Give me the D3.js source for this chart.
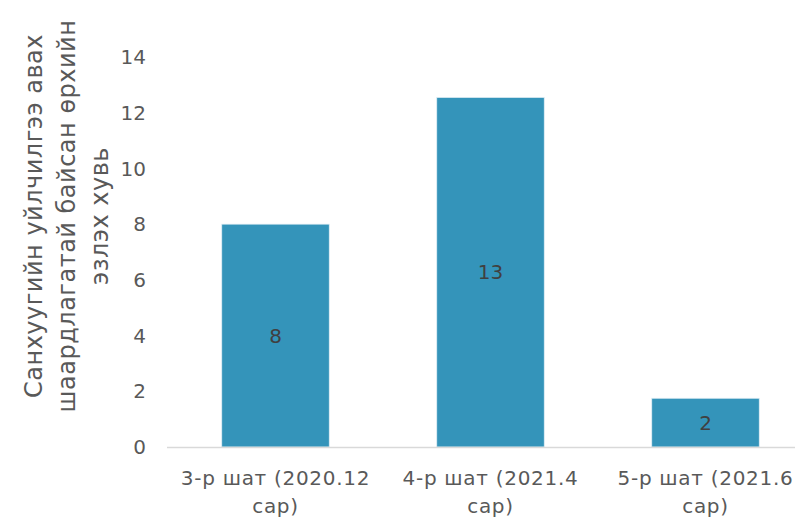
<!DOCTYPE html>
<html lang="mn">
<head>
<meta charset="utf-8">
<title>Санхүүгийн үйлчилгээ</title>
<style>
  body { margin: 0; background: #fff; }
  svg { display: block; }
  .tick-label { font-family: "DejaVu Sans", sans-serif; font-size: 20px; fill: #595959; }
  .cat-label { font-family: "DejaVu Sans", sans-serif; font-size: 20px; fill: #595959; text-anchor: middle; letter-spacing: 0.7px; }
  .bar-label { font-family: "DejaVu Sans", sans-serif; font-size: 20px; fill: #404040; text-anchor: middle; }
  .axis-title { font-family: "DejaVu Sans", sans-serif; font-size: 24px; fill: #595959; text-anchor: middle; letter-spacing: 0.5px; }
</style>
</head>
<body>
<div id="chart"></div>
<script src="https://cdn.jsdelivr.net/npm/d3@7"></script>
<script>
var categories = ["3-р шат (2020.12 сар)", "4-р шат (2021.4 сар)", "5-р шат (2021.6 сар)"];
var values = [8.0, 12.55, 1.75];
var yTicks = [0, 2, 4, 6, 8, 10, 12, 14];
var titleLines = ["Санхуугийн уйлчилгээ авах", "шаардлагатай байсан өрхийн", "эзлэх хувь"];

var width = 795, height = 518;
var plot = {left: 168, right: 813, top: 57, bottom: 447};

var svg = d3.select("#chart").append("svg")
    .attr("width", width)
    .attr("height", height);

var x = d3.scaleBand()
    .domain(categories)
    .range([plot.left, plot.right])
    .paddingInner(0.5)
    .paddingOuter(0.25);

var y = d3.scaleLinear()
    .domain([0, 14])
    .range([plot.bottom, plot.top]);

// y tick labels (no axis line)
svg.append("g").selectAll("text")
    .data(yTicks)
    .enter()
    .append("text")
    .attr("class", "tick-label")
    .attr("x", 146)
    .attr("y", function(d) { return y(d); })
    .attr("dy", "0.36em")
    .attr("text-anchor", "end")
    .text(function(d) { return d; });

// bars
svg.append("g").selectAll("rect")
    .data(values)
    .enter()
    .append("rect")
    .attr("x", function(d, i) { return x(categories[i]); })
    .attr("y", function(d) { return y(d); })
    .attr("width", x.bandwidth())
    .attr("height", function(d) { return y(0) - y(d); })
    .style("fill", "#3494BA")
    .style("stroke", "#e3eff5")
    .style("stroke-width", 0.75);

// value labels in middle of bars
svg.append("g").selectAll("text")
    .data(values)
    .enter()
    .append("text")
    .attr("class", "bar-label")
    .attr("x", function(d, i) { return x(categories[i]) + x.bandwidth() / 2; })
    .attr("y", function(d) { return (y(d) + y(0)) / 2; })
    .attr("dy", "0.36em")
    .text(function(d) { return Math.round(d); });

// x axis baseline
svg.append("line")
    .attr("x1", plot.left - 1)
    .attr("x2", width)
    .attr("y1", y(0) + 0.5)
    .attr("y2", y(0) + 0.5)
    .style("stroke", "#d9d9d9")
    .style("stroke-width", 1.5);

// category labels, wrapped at last space
var cats = svg.append("g").selectAll("text")
    .data(categories)
    .enter()
    .append("text")
    .attr("class", "cat-label")
    .attr("x", function(d) { return x(d) + x.bandwidth() / 2; })
    .attr("y", 485);

cats.each(function(d) {
    var cut = d.lastIndexOf(" ");
    var parts = [d.slice(0, cut), d.slice(cut + 1)];
    var t = d3.select(this);
    var cx = x(d) + x.bandwidth() / 2;
    parts.forEach(function(p, i) {
        t.append("tspan")
         .attr("x", cx)
         .attr("dy", i === 0 ? 0 : 28)
         .text(p);
    });
});

// y axis title, rotated, three lines
var title = svg.append("text")
    .attr("class", "axis-title")
    .attr("transform", "translate(42,216) rotate(-90)");

titleLines.forEach(function(line, i) {
    title.append("tspan")
        .attr("x", 0)
        .attr("dy", i === 0 ? 0 : 33)
        .text(line);
});
</script>
</body>
</html>
